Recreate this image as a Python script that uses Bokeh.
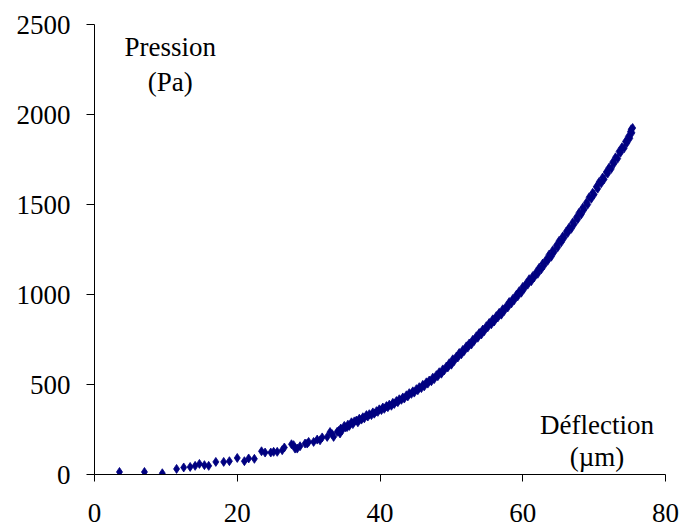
from bokeh.plotting import figure
from bokeh.models import Range1d, FixedTicker, ColumnDataSource
from bokeh.core.properties import value
from bokeh.embed import file_html
from bokeh.resources import INLINE

# Deflection (µm) and pressure (Pa)
deflection = [
    3.5, 7.0, 9.5, 11.5, 12.5, 13.4, 14.1, 14.7, 15.4, 16.0, 17.0, 18.1, 18.9, 20.0,
    21.0, 21.6, 22.4, 23.4, 23.9, 24.7, 25.1, 25.6, 26.3, 26.6, 27.6, 27.9, 28.1, 28.4,
    28.8, 29.5, 29.8, 30.0, 30.7, 31.2, 31.6, 31.9, 32.6, 33.0, 33.3, 33.5, 34.0, 34.4,
    34.2, 34.5, 34.7, 35.0, 35.2, 35.4, 35.5, 35.7, 36.0, 36.2, 36.4, 36.7, 36.9, 37.1,
    37.4, 37.6, 37.8, 38.1, 38.3, 38.5, 38.8, 39.0, 39.2, 39.5, 39.7, 39.9, 40.2, 40.4,
    40.6, 40.9, 41.1, 41.3, 41.6, 41.8, 42.0, 42.3, 42.5, 42.7, 43.0, 43.2, 43.4, 43.7,
    43.9, 44.1, 44.4, 44.6, 44.8, 45.1, 45.3, 45.5, 45.8, 46.0, 46.2, 46.5, 46.7, 46.9,
    47.2, 47.4, 47.6, 47.9, 48.1, 48.3, 48.6, 48.8, 49.0, 49.3, 49.5, 49.7, 50.0, 50.2,
    50.4, 50.7, 50.9, 51.1, 51.4, 51.6, 51.8, 52.1, 52.3, 52.5, 52.8, 53.0, 53.2, 53.5,
    53.7, 53.9, 54.2, 54.4, 54.6, 54.9, 55.1, 55.3, 55.6, 55.8, 56.0, 56.3, 56.5, 56.7,
    57.0, 57.2, 57.4, 57.7, 57.9, 58.1, 58.4, 58.6, 58.8, 59.1, 59.3, 59.5, 59.8, 60.0,
    60.2, 60.5, 60.7, 60.9, 61.2, 61.4, 61.6, 61.9, 62.1, 62.3, 62.6, 62.8, 63.0, 63.3,
    63.5, 63.7, 64.0, 64.2, 64.4, 64.7, 64.9, 65.1, 65.4, 65.6, 65.8, 66.1, 66.3, 66.5,
    66.8, 67.0, 67.2, 67.5, 67.7, 67.9, 68.2, 68.4, 68.6, 68.9, 69.1, 69.3, 69.6, 69.8,
    70.0, 70.3, 70.5, 70.7, 71.0, 71.2, 71.4, 71.7, 71.9, 72.1, 72.4, 72.6, 72.8, 73.0,
    73.3, 73.5, 73.7, 73.9, 74.2, 74.4, 74.6, 74.8, 75.0, 75.1, 75.3, 75.4, 75.2,
]
pressure = [
    14, 14, 7, 31, 39, 42, 48, 59, 52, 48, 70, 70, 74, 92,
    74, 89, 87, 129, 122, 122, 126, 126, 135, 150, 168, 163, 144, 144,
    157, 172, 172, 181, 181, 194, 190, 206, 209, 236, 224, 209, 237, 228,
    242, 255, 246, 270, 262, 264, 277, 270, 290, 280, 295, 300, 290, 310,
    305, 318, 312, 330, 322, 335, 330, 345, 338, 352, 348, 362, 358, 372,
    365, 380, 374, 388, 382, 398, 392, 408, 402, 418, 415, 428, 422, 440,
    434, 452, 448, 462, 455, 474, 468, 485, 480, 498, 490, 512, 505, 522,
    518, 538, 530, 552, 546, 568, 560, 584, 578, 600, 595, 618, 610, 640,
    630, 655, 650, 675, 668, 692, 686, 712, 705, 728, 722, 748, 742, 768,
    760, 786, 778, 805, 796, 824, 818, 842, 835, 862, 850, 880, 872, 898,
    888, 918, 908, 935, 928, 958, 950, 975, 968, 998, 990, 1018, 1010, 1042,
    1032, 1062, 1055, 1085, 1074, 1102, 1095, 1125, 1115, 1148, 1140, 1172, 1162, 1195,
    1188, 1222, 1210, 1245, 1236, 1272, 1262, 1298, 1290, 1322, 1315, 1350, 1342, 1372,
    1365, 1400, 1390, 1428, 1418, 1455, 1445, 1482, 1472, 1510, 1500, 1540, 1532, 1565,
    1555, 1598, 1588, 1625, 1618, 1650, 1640, 1680, 1672, 1705, 1698, 1735, 1728, 1762,
    1755, 1795, 1788, 1818, 1812, 1850, 1842, 1878, 1868, 1905, 1898, 1925, 1918,
]

x_ticks = [0, 20, 40, 60, 80]
y_ticks = [0, 500, 1000, 1500, 2000, 2500]

# axis titles placed inside the plot, as in the reference
titles = ["Pression", "(Pa)", "Déflection", "(µm)"]
title_x = [10.6, 10.6, 70.4, 70.4]
title_y = [2374, 2181, 274, 96]

FONT = "Times"
FS = "27px"

p = figure(width=680, height=527, output_backend="svg", toolbar_location=None,
           x_range=Range1d(0, 80), y_range=Range1d(0, 2500),
           min_border_left=94, min_border_right=15, min_border_top=24, min_border_bottom=53)
p.outline_line_color = None
p.xgrid.grid_line_color = None
p.ygrid.grid_line_color = None
p.background_fill_color = "white"
p.border_fill_color = "white"

src = ColumnDataSource(dict(x=deflection, y=pressure))
p.scatter("x", "y", source=src, marker="diamond", size=9,
          fill_color="#000080", line_color="#000080", line_width=0.8)

for ax, ticks, tout, stand in ((p.xaxis[0], x_ticks, 7, 22), (p.yaxis[0], y_ticks, 8, 16)):
    ax.ticker = FixedTicker(ticks=ticks)
    ax.minor_tick_line_color = None
    ax.major_tick_in = 0
    ax.major_tick_out = tout
    ax.major_label_standoff = stand
    ax.axis_line_color = "black"
    ax.axis_line_width = 1
    ax.major_tick_line_color = "black"
    ax.major_tick_line_width = 1
    ax.major_label_text_font = FONT
    ax.major_label_text_font_size = FS
    ax.major_label_text_color = "black"

tsrc = ColumnDataSource(dict(x=title_x, y=title_y, t=titles))
p.text("x", "y", text="t", source=tsrc, text_font=value(FONT), text_font_size=FS,
       text_align="center", text_baseline="alphabetic", text_color="black")

open("out.html", "w").write(file_html(p, INLINE))
